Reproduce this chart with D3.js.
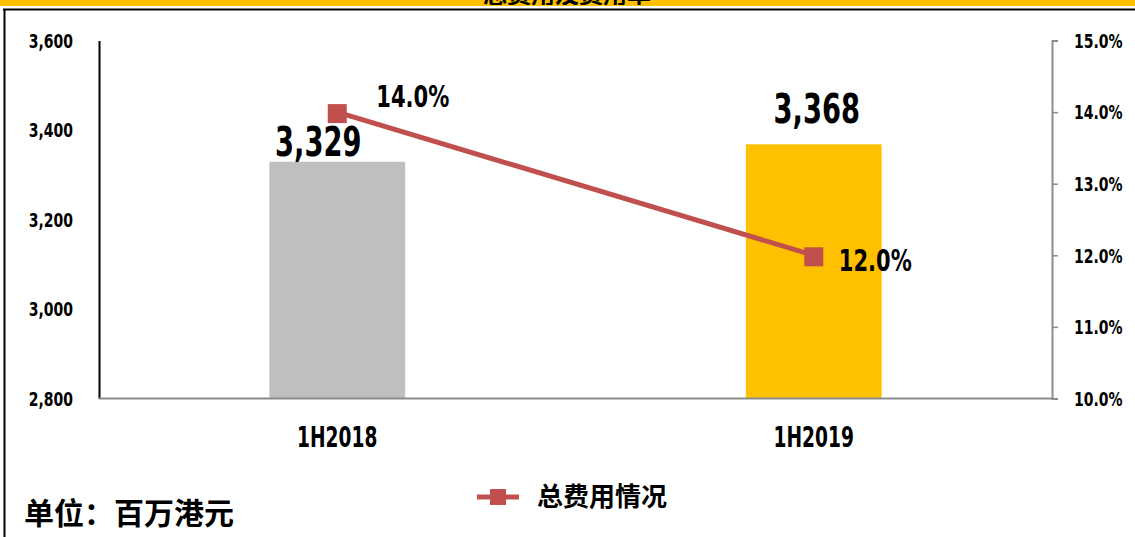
<!DOCTYPE html>
<html>
<head>
<meta charset="utf-8">
<script src="https://cdn.jsdelivr.net/npm/d3@7"></script>
<style>
  body { margin: 0; background: #fff; }
  svg { display: block; }
  .num { font-family: "Liberation Sans Narrow", "DejaVu Sans Condensed", "Arial Narrow", sans-serif; font-weight: 700; fill: #000; }
  .cjk { font-family: "Noto Sans CJK SC", sans-serif; font-weight: 700; fill: #000; }
</style>
</head>
<body>
<svg width="1135" height="537"></svg>
<script>
// data
let periods = ["1H2018", "1H2019"];
let totalCost = [3329, 3368];
let costRatio = [14.0, 12.0];
let leftTicks = [2800, 3000, 3200, 3400, 3600];
let rightTicks = [10, 11, 12, 13, 14, 15];
let barColors = ["#BFBFBF", "#FFC000"];
let seriesName = "总费用情况";
let unitLabel = "单位：百万港元";
let titleText = "总费用及费用率";

let svg = d3.select("svg"),
    width = +svg.attr("width"),
    height = +svg.attr("height");

let margin = {left: 99, right: 1052, top: 40.5, bottom: 398.5};

// condensed text helper (no Impact here, so squeeze a bold condensed face)
function tallText(g, cls, px, x, y, sx, anchor, txt) {
  return g.append("text")
      .attr("class", cls)
      .attr("transform", "translate(" + x + "," + y + ") scale(" + sx + ",1)")
      .attr("text-anchor", anchor)
      .style("font-size", px + "px")
      .text(txt);
}

// banner + frame
svg.append("rect")
    .attr("x", 0).attr("y", 0)
    .attr("width", width).attr("height", 6)
    .attr("fill", "#FFC000");

svg.append("clipPath").attr("id", "bannerClip")
  .append("rect").attr("x", 0).attr("y", 0).attr("width", width).attr("height", 5);

svg.append("text")
    .attr("class", "cjk")
    .attr("clip-path", "url(#bannerClip)")
    .attr("x", 567).attr("y", 3)
    .attr("text-anchor", "middle")
    .style("font-size", "24px")
    .text(titleText);

svg.append("line")
    .attr("x1", 3).attr("x2", width)
    .attr("y1", 9.5).attr("y2", 9.5)
    .attr("stroke", "#000").attr("stroke-width", 2);

svg.append("line")
    .attr("x1", 4.5).attr("x2", 4.5)
    .attr("y1", 9).attr("y2", height)
    .attr("stroke", "#000").attr("stroke-width", 2);

// scales
let x = d3.scaleBand()
    .domain(periods)
    .range([margin.left, margin.right])
    .padding(0);

let barW = x.bandwidth() * 0.285;

let yLeft = d3.scaleLinear()
    .domain([2800, 3600])
    .range([margin.bottom, margin.top]);

let yRight = d3.scaleLinear()
    .domain([10, 15])
    .range([margin.bottom, margin.top]);

// bars
svg.selectAll(".bar")
  .data(periods)
  .enter().append("rect")
    .attr("class", "bar")
    .attr("x", d => x(d) + x.bandwidth() / 2 - barW / 2)
    .attr("y", (d, i) => yLeft(totalCost[i]))
    .attr("width", barW)
    .attr("height", (d, i) => yLeft(2800) - yLeft(totalCost[i]))
    .attr("fill", (d, i) => barColors[i]);

// left axis
let tsx = 0.82;
let leftAxis = svg.append("g")
    .attr("transform", "translate(" + margin.left + ",0)")
    .call(d3.axisLeft(yLeft).tickValues(leftTicks).tickSize(0).tickPadding(26).tickFormat(d3.format(",")));
leftAxis.select(".domain").attr("stroke", "#000").attr("stroke-width", 2);
leftAxis.selectAll("text")
    .attr("class", "num")
    .style("font-size", "19px")
    .attr("dy", "0.36em")
    .attr("x", -26 / tsx)
    .attr("transform", "scale(" + tsx + ",1)");

// right axis
let rightAxis = svg.append("g")
    .attr("transform", "translate(" + margin.right + ",0)")
    .call(d3.axisRight(yRight).tickValues(rightTicks).tickSize(6).tickPadding(22).tickFormat(d => d.toFixed(1) + "%"));
rightAxis.select(".domain").attr("stroke", "#8c8c8c").attr("stroke-width", 2);
rightAxis.selectAll(".tick line").attr("stroke", "#8c8c8c").attr("stroke-width", 1.5);
rightAxis.selectAll("text")
    .attr("class", "num")
    .style("font-size", "19px")
    .attr("dy", "0.36em")
    .attr("x", 22 / tsx)
    .attr("transform", "scale(" + tsx + ",1)");

// baseline
svg.append("line")
    .attr("x1", margin.left).attr("x2", margin.right)
    .attr("y1", margin.bottom).attr("y2", margin.bottom)
    .attr("stroke", "#8c8c8c").attr("stroke-width", 2);

// x labels
periods.forEach(d => {
  tallText(svg, "num", 28, x(d) + x.bandwidth() / 2, 447, 0.74, "middle", d);
});

// line
let pts = periods.map((d, i) => [x(d) + x.bandwidth() / 2, yRight(costRatio[i])]);
svg.append("path")
    .datum(pts)
    .attr("d", d3.line())
    .attr("fill", "none")
    .attr("stroke", "#C0504D")
    .attr("stroke-width", 5);

svg.selectAll(".mark")
  .data(pts)
  .enter().append("rect")
    .attr("x", d => d[0] - 9.5)
    .attr("y", d => d[1] - 8)
    .attr("width", 19).attr("height", 19)
    .attr("fill", "#C0504D");

// bar value labels
let barLabX = [-19, 3], barLabUp = [6, 21];
periods.forEach((d, i) => {
  tallText(svg, "num", 40, x(d) + x.bandwidth() / 2 + barLabX[i], yLeft(totalCost[i]) - barLabUp[i], 0.76, "middle",
    d3.format(",")(totalCost[i]));
});

// ratio labels
let rateDx = [39, 25], rateDy = [-5, 16];
pts.forEach((p, i) => {
  tallText(svg, "num", 30, p[0] + rateDx[i], p[1] + rateDy[i], 0.78, "start", costRatio[i].toFixed(1) + "%");
});

// legend
let lg = svg.append("g").attr("transform", "translate(477,497)");
lg.append("line")
    .attr("x1", 0).attr("x2", 42).attr("y1", 0).attr("y2", 0)
    .attr("stroke", "#C0504D").attr("stroke-width", 5);
lg.append("rect")
    .attr("x", 13).attr("y", -8).attr("width", 16).attr("height", 16)
    .attr("fill", "#C0504D");
lg.append("text")
    .attr("class", "cjk")
    .attr("x", 60).attr("y", 9)
    .style("font-size", "26px")
    .text(seriesName);

svg.append("text")
    .attr("class", "cjk")
    .attr("x", 24).attr("y", 524)
    .style("font-size", "30px")
    .text(unitLabel);
</script>
</body>
</html>
